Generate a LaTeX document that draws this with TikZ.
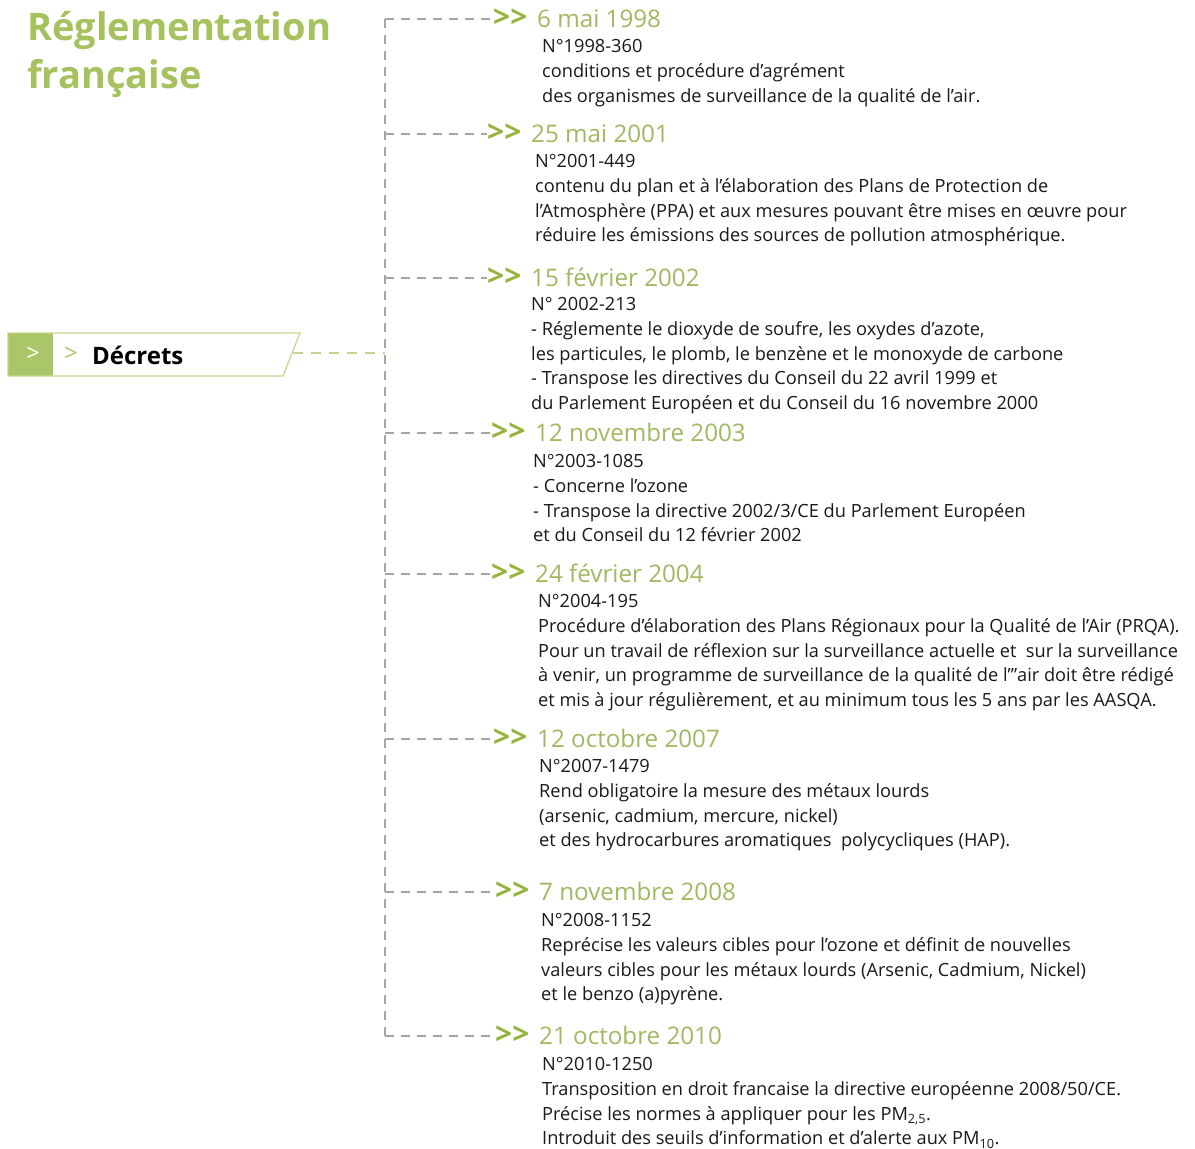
\documentclass[tikz,border=0pt]{standalone}
\usepackage{fontspec}
\setmainfont{Open Sans}
\usetikzlibrary{positioning}
\definecolor{titlegreen}{RGB}{166,194,94}
\definecolor{dategreen}{RGB}{160,184,96}
\definecolor{chevgreen}{RGB}{150,180,60}
\definecolor{boxgreen}{RGB}{170,198,104}
\definecolor{boxline}{RGB}{196,213,145}
\definecolor{linegray}{RGB}{165,165,165}
\definecolor{bodytext}{RGB}{25,25,25}
\tikzset{
  datenode/.style={anchor=base west, inner sep=0pt, text height=16pt, text depth=0pt,
    text=dategreen, font=\fontsize{24.2}{28}\selectfont},
  bodynode/.style={anchor=north west, inner sep=0pt, align=left, text=bodytext, yshift=12.6pt,
    font=\fontsize{18.2}{24.65}\selectfont, execute at begin node=\strut},
  branch/.style={draw=linegray, line width=1.2pt, dash pattern=on 9pt off 7pt},
  trunk/.style={draw=linegray, line width=1.2pt, dash pattern=on 9pt off 7pt},
}
\newcommand{\chev}{\makebox[44pt][l]{\fontsize{30}{30}\bfseries\color{chevgreen}>{}>}}

\begin{document}
\begin{tikzpicture}[x=1pt, y=-1pt]
		\useasboundingbox (0,0) rectangle (1195,1149);
		
		%%%%% TITLE %%%%%
		\node[anchor=base west, inner sep=0pt, text=titlegreen, font=\fontsize{38}{48}\bfseries] (title1) at (27,40) {Réglementation};
		\node[anchor=base west, inner sep=0pt, text=titlegreen, font=\fontsize{38}{48}\bfseries] (title2) at (27,88) {française};
		
		%%%%% DECRETS BOX %%%%%
		\fill[boxgreen] (8,333) rectangle (53,376);
		\draw[boxline, line width=1.2pt] (8,333) -- (300,333) -- (283,376) -- (8,376) -- cycle;
		\node[text=white, font=\fontsize{24}{28}\selectfont, inner sep=0pt] (chevA) at (33,354) {>};
		\node[text=boxgreen, font=\fontsize{24}{28}\selectfont, inner sep=0pt] (chevB) at (71,354) {>};
		\node[anchor=base west, inner sep=0pt, font=\fontsize{24}{28}\bfseries] (decrets) at (92,364) {Décrets};
		\coordinate (boxr) at (293,353);
		\coordinate (t0) at (385,353);
		\draw[draw=boxline, line width=1.5pt, dash pattern=on 10pt off 8pt] (boxr) -- (t0);
		
		%%%%% DATES %%%%%
		\node[datenode] (d1) at (493,27) {\chev 6 mai 1998};
		\node[datenode] (d2) at (487,142) {\chev 25 mai 2001};
		\node[datenode] (d3) at (487,286) {\chev 15 février 2002};
		\node[datenode] (d4) at (491,441) {\chev 12 novembre 2003};
		\node[datenode] (d5) at (491,582) {\chev 24 février 2004};
		\node[datenode] (d6) at (493,747) {\chev 12 octobre 2007};
		\node[datenode] (d7) at (495,900) {\chev 7 novembre 2008};
		\node[datenode] (d8) at (495,1044) {\chev 21 octobre 2010};
		
		%%%%% TRUNK AND BRANCHES %%%%%
		\draw[trunk] (d1.west -| t0) -- (d8.west -| t0);
		\draw[branch] (d1.west -| t0) -- (d1.west);
		\draw[branch] (d2.west -| t0) -- (d2.west);
		\draw[branch] (d3.west -| t0) -- (d3.west);
		\draw[branch] (d4.west -| t0) -- (d4.west);
		\draw[branch] (d5.west -| t0) -- (d5.west);
		\draw[branch] (d6.west -| t0) -- (d6.west);
		\draw[branch] (d7.west -| t0) -- (d7.west);
		\draw[branch] (d8.west -| t0) -- (d8.west);
		
		%%%%% TEXTS %%%%%
		\node[bodynode] (b1) at (542,52) {N°1998-360\\conditions et procédure d'agrément\\des organismes de surveillance de la qualité de l'air.};
		\node[bodynode] (b2) at (535,167) {N°2001-449\\contenu du plan et à l'élaboration des Plans de Protection de\\l'Atmosphère (PPA) et aux mesures pouvant être mises en œuvre pour\\réduire les émissions des sources de pollution atmosphérique.};
		\node[bodynode] (b3) at (531,310) {N° 2002-213\\- Réglemente le dioxyde de soufre, les oxydes d'azote,\\les particules, le plomb, le benzène et le monoxyde de carbone\\- Transpose les directives du Conseil du 22 avril 1999 et\\du Parlement Européen et du Conseil du 16 novembre 2000};
		\node[bodynode] (b4) at (533,467) {N°2003-1085\\- Concerne l'ozone\\- Transpose la directive 2002/3/CE du Parlement Européen\\et du Conseil du 12 février 2002};
		\node[bodynode] (b5) at (538,607) {N°2004-195\\Procédure d'élaboration des Plans Régionaux pour la Qualité de l'Air (PRQA).\\Pour un travail de réflexion sur la surveillance actuelle et\ \ sur la surveillance\\à venir, un programme de surveillance de la qualité de l'"air doit être rédigé\\et mis à jour régulièrement, et au minimum tous les 5 ans par les AASQA.};
		\node[bodynode] (b6) at (539,772) {N°2007-1479\\Rend obligatoire la mesure des métaux lourds\\(arsenic, cadmium, mercure, nickel)\\et des hydrocarbures aromatiques\ \ polycycliques (HAP).};
		\node[bodynode] (b7) at (541,926) {N°2008-1152\\Reprécise les valeurs cibles pour l'ozone et définit de nouvelles\\valeurs cibles pour les métaux lourds (Arsenic, Cadmium, Nickel)\\et le benzo (a)pyrène.};
		\node[bodynode] (b8) at (542,1070) {N°2010-1250\\Transposition en droit francaise la directive européenne 2008/50/CE.\\Précise les normes à appliquer pour les PM\textsubscript{2,5}.\\Introduit des seuils d'information et d'alerte aux PM\textsubscript{10}.};
		
	\end{tikzpicture}
\end{document}
